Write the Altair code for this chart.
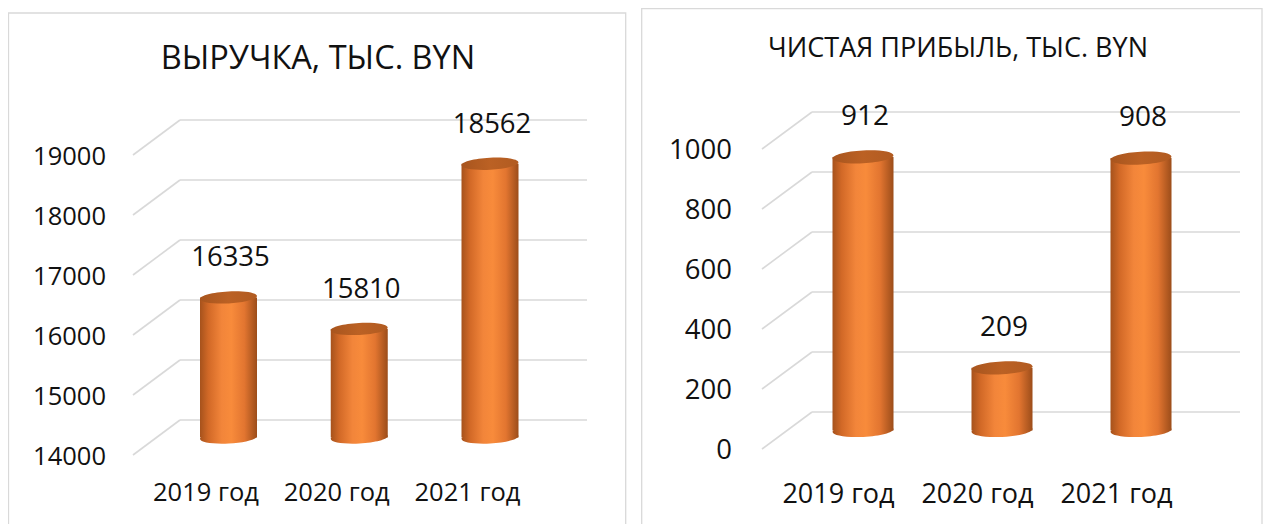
import altair as alt
import pandas as pd

# ---------------- data ----------------
years = ["2019 год", "2020 год", "2021 год"]
revenue = [16335, 15810, 18562]
profit = [912, 209, 908]
rev_ticks = [14000, 15000, 16000, 17000, 18000, 19000]
prof_ticks = [0, 200, 400, 600, 800, 1000]
rev_title = "ВЫРУЧКА, ТЫС. BYN"
prof_title = "ЧИСТАЯ ПРИБЫЛЬ, ТЫС. BYN"

FONT = "Open Sans"
INK = "#111111"
GRID = "#d9d9d9"

body_grad = alt.LinearGradient(
    gradient="linear", x1=0, x2=1, y1=0, y2=0,
    stops=[
        alt.GradientStop(color="#a6521c", offset=0),
        alt.GradientStop(color="#d26927", offset=0.15),
        alt.GradientStop(color="#f2853a", offset=0.38),
        alt.GradientStop(color="#f88b3b", offset=0.55),
        alt.GradientStop(color="#e27530", offset=0.78),
        alt.GradientStop(color="#9c4d1a", offset=1),
    ],
)
top_grad = alt.LinearGradient(
    gradient="linear", x1=0, x2=1, y1=0, y2=0,
    stops=[
        alt.GradientStop(color="#a8551e", offset=0),
        alt.GradientStop(color="#bb6124", offset=0.5),
        alt.GradientStop(color="#b15b21", offset=1),
    ],
)

ELLIPSE = ("M -1 0 C -1 -0.116 -0.552 -0.21 0 -0.21 C 0.552 -0.21 1 -0.116 1 0 "
           "C 1 0.116 0.552 0.21 0 0.21 C -0.552 0.21 -1 0.116 -1 0 Z")

LEFT = dict(x_range=[215.5, 487], y_range=[429.5, 129.5], depth=17.5,
            grid_x=[125, 172, 579], tick_x=98, tick_fs=25.5,
            bar_w=57, val_dy=-39, val_fs=27.5, cat_dx=-22.5, cat_y=485, cat_fs=25.5,
            title_xy=[310, 50.5], title_fs=32.5, bx=[0.5, 617.7], by=[5, 540])
RIGHT = dict(x_range=[850, 1138], y_range=[422.5, 122.5], depth=18.5,
             grid_x=[754, 804, 1232], tick_x=724, tick_fs=27.5,
             bar_w=61, val_dy=-40, val_fs=28, cat_dx=-24.5, cat_y=487, cat_fs=27,
             title_xy=[950, 41], title_fs=27, bx=[633.7, 1254], by=[0.7, 540])


def panel(values, ticks, title, P):
    n = len(years)
    data = pd.DataFrame({
        "idx": list(range(n)),
        "year": years,
        "value": values,
        "vlabel": [str(v) for v in values],
        "base": [ticks[0]] * n,
    })
    tick_df = pd.DataFrame({"tick": ticks, "tlabel": [str(t) for t in ticks]})
    one = pd.DataFrame({"k": [0]})

    xs = alt.Scale(domain=[0, n - 1], range=P["x_range"])
    ys = alt.Scale(domain=[ticks[0], ticks[-1]], range=P["y_range"])
    X = alt.X("idx:Q", scale=xs, axis=None)
    Y = alt.Y("value:Q", scale=ys, axis=None)
    YB = alt.Y("base:Q", scale=ys, axis=None)
    YT = alt.Y("tick:Q", scale=ys, axis=None)
    d = P["depth"]
    w = P["bar_w"]

    border = alt.Chart(one).mark_rect(fillOpacity=0, stroke=GRID, strokeWidth=1.3).encode(
        x=alt.value(P["bx"][0]), x2=alt.value(P["bx"][1]),
        y=alt.value(P["by"][0]), y2=alt.value(P["by"][1]))
    title_m = alt.Chart(one).mark_text(
        text=title, font=FONT, fontSize=P["title_fs"], color=INK,
        align="center", baseline="middle").encode(
        x=alt.value(P["title_xy"][0]), y=alt.value(P["title_xy"][1]))
    back = alt.Chart(tick_df).mark_rule(color=GRID, strokeWidth=1.6, yOffset=-d).encode(
        y=YT, x=alt.value(P["grid_x"][1]), x2=alt.value(P["grid_x"][2]))
    diag = alt.Chart(tick_df).mark_rule(color=GRID, strokeWidth=1.6, yOffset=d, y2Offset=-d).encode(
        y=YT, y2=alt.Y2("tick:Q"), x=alt.value(P["grid_x"][0]), x2=alt.value(P["grid_x"][1]))
    tlabels = alt.Chart(tick_df).mark_text(
        font=FONT, fontSize=P["tick_fs"], color=INK, align="right", baseline="middle",
        yOffset=d + 2).encode(y=YT, x=alt.value(P["tick_x"]), text="tlabel:N")

    bottom = alt.Chart(data).mark_point(
        shape=ELLIPSE, size=w * w, filled=True, fill=body_grad, opacity=1,
        strokeOpacity=0, angle=357).encode(x=X, y=YB)
    body = alt.Chart(data).mark_bar(size=w, fill=body_grad, strokeOpacity=0).encode(
        x=X, y=Y, y2=alt.Y2("base:Q"))
    top = alt.Chart(data).mark_point(
        shape=ELLIPSE, size=w * w, filled=True, fill=top_grad, opacity=1,
        strokeOpacity=0, angle=357).encode(x=X, y=Y)
    vlabels = alt.Chart(data).mark_text(
        font=FONT, fontSize=P["val_fs"], color=INK, baseline="middle", dy=P["val_dy"], dx=2).encode(
        x=X, y=Y, text="vlabel:N")
    clabels = alt.Chart(data).mark_text(
        font=FONT, fontSize=P["cat_fs"], color=INK, baseline="middle", dx=P["cat_dx"]).encode(
        x=X, y=alt.value(P["cat_y"]), text="year:N")

    return alt.layer(border, title_m, back, diag, tlabels, bottom, body, top, vlabels, clabels)


left = panel(revenue, rev_ticks, rev_title, LEFT)
right = panel(profit, prof_ticks, prof_title, RIGHT)

chart = alt.layer(left, right).resolve_scale(x="independent", y="independent").properties(
    width=1256, height=516, padding=0,
    autosize=alt.AutoSizeParams(type="none"),
).configure_view(strokeWidth=0)

chart.save("out.html", embed_options={"renderer": "svg", "actions": False})
